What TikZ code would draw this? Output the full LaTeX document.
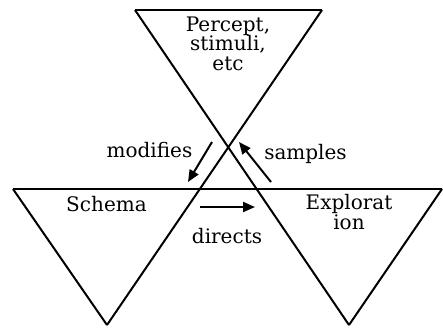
\documentclass[tikz,border=0pt]{standalone}
\usepackage{fontspec}
\setmainfont{DejaVu Serif}
\usetikzlibrary{arrows.meta}
\tikzset{
  edge/.style={line width=2pt, line join=miter, line cap=butt},
  flow/.style={line width=2pt, -{Triangle[length=12pt,width=10pt]}},
  lbl/.style={font=\fontsize{20}{19.5}\selectfont, inner sep=0pt, align=center},
}
\begin{document}
\begin{tikzpicture}[x=1pt,y=-1pt]
\useasboundingbox (0,0) rectangle (443,327);
% triangle corners
\coordinate (tl) at (135,10);
\coordinate (tr) at (322,10);
\coordinate (ll) at (13,189);
\coordinate (rr) at (442,189);
\coordinate (la) at (107,325);
\coordinate (ra) at (349,325);
\draw[edge] (tl) -- (tr);
\draw[edge] (tl) -- (ra);
\draw[edge] (tr) -- (la);
\draw[edge] (ll) -- (rr);
\draw[edge] (ll) -- (la);
\draw[edge] (rr) -- (ra);
% texts
\node[lbl, anchor=base] (percept) at (228,70) {Percept,\\stimuli,\\etc};
\node[lbl, anchor=base] (schema) at (106.5,211) {Schema};
\node[lbl, anchor=base] (explor) at (349,229) {Explorat\\ion};
\node[lbl, anchor=base] (modifies) at (149.5,157) {modifies};
\node[lbl, anchor=base] (samples) at (305.5,159) {samples};
\node[lbl, anchor=base] (directs) at (227,243) {directs};
% arrows
\coordinate (m1) at (212,142);
\coordinate (m2) at (188,182);
\coordinate (s1) at (271,182);
\coordinate (s2) at (239,142);
\coordinate (d1) at (200,207);
\coordinate (d2) at (255,207);
\draw[flow] (m1) -- (m2);
\draw[flow] (s1) -- (s2);
\draw[flow] (d1) -- (d2);
\end{tikzpicture}
\end{document}
